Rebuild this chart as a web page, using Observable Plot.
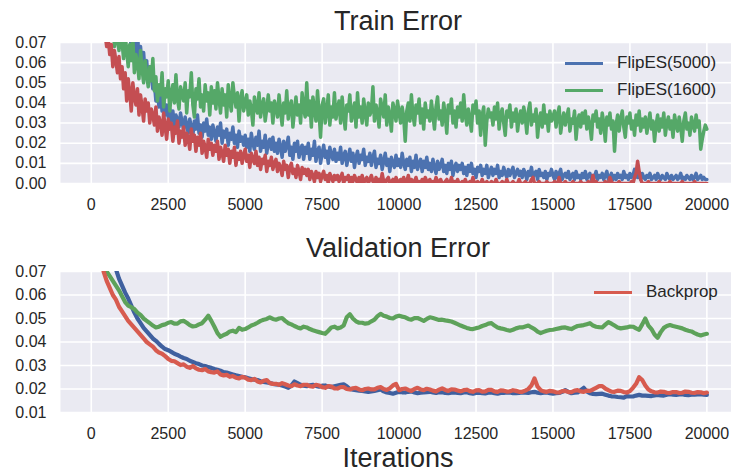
<!DOCTYPE html>
<html><head><meta charset="utf-8">
<script src="https://cdn.jsdelivr.net/npm/d3@7"></script>
<script src="https://cdn.jsdelivr.net/npm/@observablehq/plot@0.6"></script>
<style>
html,body{margin:0;padding:0;background:#fff;overflow:hidden}
#wrap{position:relative;width:731px;height:472px;overflow:hidden;font-family:"Liberation Sans",Arial,sans-serif;color:#262626}
.panel{position:absolute;left:0}
.title{position:absolute;left:398px;transform:translateX(-50%);font-size:27px;line-height:27px;white-space:nowrap}
.leg{position:absolute;font-size:17px;line-height:17px;white-space:nowrap}
.leg .sw{position:absolute;width:38px;height:3px}
.leg .lb{position:absolute;left:52px;top:0}
</style>
</head><body>
<div id="wrap"></div>
<script>
// ---------- data ----------
const xTicks = [0, 2500, 5000, 7500, 10000, 12500, 15000, 17500, 20000];
const yTicksTrain = [0.00, 0.01, 0.02, 0.03, 0.04, 0.05, 0.06, 0.07];
const yTicksVal = [0.01, 0.02, 0.03, 0.04, 0.05, 0.06, 0.07];
const seriesNames = ["FlipES(5000)", "FlipES(1600)", "Backprop"];
const trainStep = 50;    // iterations between train samples
const valStep = 100;     // iterations between validation samples

// Train error, FlipES(5000)  (one row = 1000 iterations)
const trainFlip5000 = [
0.600,0.500,0.420,0.350,0.300,0.260,0.220,0.190,0.165,0.145,0.130,0.118,0.108,0.100,0.094,0.090,0.087,0.084,0.082,0.080,
0.078,0.083,0.075,0.079,0.072,0.077,0.066,0.074,0.069,0.063,0.076,0.060,0.068,0.057,0.065,0.054,0.061,0.050,0.058,0.053,
0.047,0.050,0.041,0.045,0.038,0.044,0.036,0.042,0.034,0.039,0.033,0.037,0.031,0.036,0.029,0.034,0.032,0.028,0.035,0.030,
0.027,0.033,0.029,0.025,0.032,0.028,0.024,0.031,0.027,0.034,0.025,0.029,0.023,0.030,0.026,0.032,0.024,0.028,0.022,0.029,
0.025,0.021,0.028,0.024,0.030,0.020,0.026,0.023,0.027,0.019,0.025,0.022,0.028,0.020,0.024,0.018,0.026,0.021,0.023,0.019,
0.024,0.018,0.022,0.016,0.025,0.020,0.017,0.023,0.019,0.026,0.016,0.021,0.018,0.024,0.015,0.020,0.022,0.017,0.023,0.016,
0.020,0.015,0.022,0.018,0.013,0.021,0.016,0.019,0.023,0.014,0.018,0.012,0.020,0.016,0.021,0.013,0.017,0.019,0.012,0.018,
0.015,0.020,0.012,0.017,0.014,0.021,0.011,0.016,0.018,0.010,0.015,0.019,0.013,0.016,0.010,0.018,0.014,0.012,0.017,0.011,
0.015,0.012,0.018,0.010,0.014,0.016,0.009,0.013,0.017,0.011,0.015,0.008,0.013,0.016,0.010,0.014,0.012,0.017,0.009,0.013,
0.011,0.015,0.009,0.013,0.016,0.008,0.012,0.010,0.014,0.007,0.011,0.015,0.009,0.012,0.006,0.013,0.010,0.008,0.014,0.009,
0.012,0.008,0.015,0.010,0.007,0.012,0.009,0.013,0.006,0.011,0.008,0.014,0.007,0.010,0.012,0.006,0.011,0.008,0.013,0.007,
0.010,0.006,0.012,0.008,0.005,0.011,0.007,0.009,0.012,0.006,0.009,0.005,0.010,0.007,0.011,0.004,0.008,0.010,0.006,0.009,
0.007,0.010,0.005,0.008,0.004,0.009,0.006,0.010,0.005,0.007,0.003,0.008,0.006,0.009,0.004,0.007,0.005,0.009,0.003,0.006,
0.008,0.004,0.007,0.005,0.009,0.003,0.006,0.004,0.008,0.005,0.003,0.007,0.004,0.006,0.008,0.003,0.005,0.007,0.004,0.006,
0.003,0.007,0.005,0.002,0.006,0.004,0.008,0.003,0.005,0.006,0.002,0.007,0.004,0.005,0.003,0.006,0.002,0.005,0.004,0.007,
0.004,0.002,0.006,0.003,0.005,0.007,0.002,0.004,0.005,0.003,0.006,0.002,0.004,0.005,0.002,0.006,0.003,0.004,0.002,0.005,
0.003,0.006,0.002,0.004,0.005,0.002,0.004,0.003,0.006,0.002,0.004,0.003,0.005,0.002,0.004,0.006,0.002,0.003,0.005,0.002,
0.004,0.002,0.005,0.003,0.004,0.002,0.006,0.003,0.004,0.002,0.005,0.003,0.004,0.007,0.006,0.003,0.004,0.002,0.005,0.003,
0.002,0.004,0.003,0.005,0.002,0.003,0.004,0.002,0.005,0.003,0.002,0.004,0.003,0.002,0.005,0.003,0.002,0.004,0.002,0.003,
0.004,0.002,0.003,0.005,0.002,0.003,0.002,0.004,0.003,0.002,0.004,0.002,0.003,0.005,0.002,0.003,0.004,0.002,0.003,0.002,
0.002];

// Train error, FlipES(1600)
const trainFlip1600 = [
0.500,0.400,0.320,0.260,0.210,0.170,0.140,0.120,0.105,0.095,0.088,0.080,0.076,0.072,0.082,0.068,0.075,0.071,0.066,0.079,
0.070,0.062,0.074,0.066,0.058,0.069,0.061,0.072,0.055,0.064,0.060,0.052,0.066,0.057,0.050,0.061,0.054,0.048,0.058,0.051,
0.062,0.046,0.053,0.041,0.049,0.044,0.055,0.038,0.047,0.043,0.051,0.036,0.045,0.049,0.040,0.054,0.042,0.037,0.048,0.044,
0.041,0.050,0.035,0.046,0.043,0.055,0.039,0.033,0.047,0.042,0.052,0.038,0.044,0.036,0.049,0.041,0.045,0.034,0.048,0.040,
0.046,0.037,0.050,0.042,0.035,0.047,0.039,0.044,0.033,0.049,0.041,0.036,0.050,0.043,0.038,0.045,0.031,0.042,0.046,0.036,
0.040,0.044,0.034,0.041,0.037,0.029,0.043,0.038,0.035,0.045,0.033,0.039,0.042,0.031,0.037,0.044,0.036,0.040,0.030,0.041,
0.038,0.033,0.044,0.036,0.029,0.040,0.035,0.046,0.032,0.038,0.041,0.028,0.036,0.043,0.034,0.039,0.030,0.045,0.037,0.033,
0.050,0.034,0.041,0.028,0.043,0.037,0.031,0.046,0.035,0.023,0.039,0.042,0.030,0.036,0.044,0.029,0.038,0.033,0.045,0.032,
0.037,0.041,0.030,0.043,0.034,0.027,0.039,0.036,0.044,0.031,0.035,0.040,0.028,0.045,0.033,0.038,0.030,0.042,0.035,0.029,
0.040,0.034,0.036,0.048,0.031,0.039,0.035,0.028,0.042,0.037,0.033,0.044,0.029,0.038,0.034,0.026,0.040,0.036,0.031,0.041,
0.035,0.030,0.038,0.033,0.021,0.036,0.040,0.031,0.044,0.034,0.029,0.039,0.035,0.042,0.030,0.037,0.027,0.040,0.033,0.036,
0.031,0.041,0.034,0.027,0.038,0.043,0.032,0.036,0.029,0.040,0.034,0.025,0.039,0.035,0.042,0.030,0.036,0.028,0.038,0.033,
0.040,0.031,0.044,0.034,0.029,0.037,0.032,0.026,0.039,0.035,0.041,0.030,0.036,0.024,0.034,0.038,0.019,0.031,0.037,0.033,
0.035,0.029,0.038,0.032,0.040,0.027,0.034,0.037,0.030,0.024,0.036,0.033,0.039,0.028,0.035,0.031,0.037,0.026,0.033,0.036,
0.030,0.038,0.033,0.025,0.036,0.040,0.029,0.034,0.031,0.037,0.023,0.032,0.035,0.028,0.039,0.030,0.034,0.026,0.036,0.031,
0.033,0.036,0.028,0.034,0.038,0.025,0.031,0.035,0.029,0.033,0.037,0.026,0.032,0.030,0.036,0.022,0.031,0.034,0.028,0.035,
0.030,0.036,0.027,0.033,0.029,0.022,0.034,0.031,0.036,0.028,0.032,0.025,0.035,0.030,0.021,0.033,0.029,0.035,0.027,0.031,
0.016,0.029,0.034,0.026,0.032,0.036,0.028,0.023,0.033,0.030,0.035,0.027,0.031,0.024,0.034,0.029,0.036,0.026,0.032,0.028,
0.033,0.025,0.030,0.035,0.027,0.031,0.021,0.029,0.034,0.026,0.032,0.028,0.035,0.024,0.030,0.033,0.027,0.031,0.023,0.034,
0.029,0.026,0.033,0.028,0.021,0.031,0.035,0.027,0.030,0.024,0.033,0.029,0.026,0.034,0.028,0.031,0.017,0.022,0.026,0.029,
0.027];

// Train error, Backprop
const trainBackprop = [
0.400,0.320,0.250,0.200,0.160,0.130,0.110,0.095,0.082,0.074,0.068,0.072,0.064,0.069,0.058,0.066,0.061,0.055,0.063,0.052,
0.058,0.047,0.055,0.041,0.052,0.045,0.036,0.050,0.043,0.039,0.047,0.034,0.044,0.038,0.031,0.042,0.036,0.040,0.030,0.037,
0.034,0.029,0.038,0.026,0.033,0.030,0.024,0.035,0.028,0.022,0.032,0.027,0.030,0.021,0.028,0.025,0.031,0.020,0.026,0.023,
0.028,0.019,0.025,0.022,0.017,0.027,0.021,0.024,0.016,0.023,0.019,0.025,0.015,0.021,0.018,0.013,0.022,0.017,0.020,0.014,
0.019,0.016,0.021,0.012,0.018,0.015,0.011,0.019,0.014,0.017,0.010,0.016,0.013,0.018,0.009,0.015,0.012,0.016,0.010,0.014,
0.017,0.011,0.014,0.008,0.015,0.012,0.010,0.016,0.009,0.013,0.007,0.012,0.010,0.014,0.006,0.011,0.009,0.013,0.007,0.010,
0.012,0.006,0.010,0.008,0.004,0.011,0.007,0.009,0.003,0.008,0.010,0.005,0.007,0.003,0.009,0.006,0.002,0.008,0.005,0.007,
0.004,0.007,0.002,0.006,0.004,0.001,0.006,0.003,0.005,0.001,0.004,0.006,0.002,0.004,0.000,0.005,0.003,0.001,0.004,0.002,
0.004,0.001,0.003,0.005,0.000,0.003,0.002,0.004,0.000,0.003,0.001,0.004,0.002,0.000,0.003,0.001,0.004,0.000,0.002,0.003,
0.000,0.002,0.004,0.001,0.000,0.003,0.001,0.002,0.000,0.005,0.001,0.000,0.002,0.003,0.000,0.001,0.002,0.000,0.003,0.001,
0.000,0.002,0.001,0.003,0.000,0.001,0.004,0.000,0.002,0.000,0.001,0.003,0.000,0.001,0.000,0.002,0.000,0.003,0.001,0.000,
0.002,0.000,0.001,0.000,0.003,0.001,0.000,0.002,0.000,0.000,0.001,0.002,0.000,0.000,0.003,0.000,0.001,0.000,0.002,0.000,
0.000,0.001,0.000,0.002,0.000,0.000,0.001,0.000,0.003,0.000,0.000,0.001,0.000,0.000,0.002,0.000,0.000,0.001,0.000,0.000,
0.001,0.000,0.000,0.002,0.000,0.000,0.000,0.001,0.000,0.000,0.002,0.000,0.000,0.000,0.001,0.000,0.000,0.000,0.002,0.000,
0.000,0.000,0.001,0.000,0.000,0.000,0.002,0.003,0.000,0.000,0.000,0.001,0.000,0.000,0.000,0.000,0.001,0.000,0.000,0.000,
0.000,0.001,0.000,0.000,0.003,0.000,0.000,0.000,0.001,0.000,0.000,0.000,0.000,0.001,0.000,0.000,0.000,0.000,0.001,0.000,
0.000,0.000,0.000,0.001,0.000,0.000,0.004,0.000,0.001,0.000,0.000,0.000,0.000,0.000,0.001,0.000,0.000,0.003,0.001,0.000,
0.000,0.000,0.000,0.001,0.000,0.000,0.000,0.000,0.000,0.000,0.000,0.001,0.000,0.003,0.005,0.011,0.006,0.002,0.000,0.000,
0.000,0.000,0.001,0.000,0.000,0.000,0.000,0.000,0.000,0.001,0.000,0.000,0.000,0.000,0.000,0.000,0.001,0.000,0.000,0.000,
0.000,0.000,0.000,0.000,0.001,0.000,0.000,0.000,0.000,0.000,0.000,0.000,0.001,0.000,0.000,0.000,0.000,0.000,0.000,0.000,
0.000];

// Validation error, FlipES(5000)
const valFlip5000 = [
0.300,0.220,0.160,0.120,0.100,0.090,0.083,0.077,0.071,0.067,
0.064,0.061,0.0585,0.0555,0.0525,0.050,0.048,0.046,0.0445,0.043,
0.0415,0.0405,0.0392,0.038,0.037,0.0365,0.0358,0.035,0.0345,0.0338,
0.0332,0.0328,0.032,0.0315,0.031,0.0306,0.030,0.0298,0.0293,0.029,
0.0285,0.0282,0.0278,0.0272,0.027,0.0266,0.0262,0.0258,0.0255,0.0252,
0.025,0.0246,0.0242,0.024,0.0238,0.0233,0.023,0.0228,0.0226,0.0222,
0.022,0.0218,0.0215,0.021,0.0205,0.0215,0.0232,0.0225,0.0218,0.0214,
0.0212,0.0216,0.0218,0.0213,0.021,0.0214,0.0215,0.0211,0.0208,0.0212,
0.0215,0.0218,0.022,0.0212,0.020,0.0197,0.0195,0.0193,0.0192,0.019,
0.0188,0.019,0.0192,0.0195,0.0198,0.019,0.0185,0.0183,0.018,0.0184,
0.0188,0.0186,0.0185,0.0188,0.019,0.0185,0.0182,0.0184,0.0185,0.0187,
0.0188,0.0185,0.0183,0.0186,0.0186,0.0183,0.0182,0.0184,0.0185,0.0183,
0.0182,0.0185,0.0186,0.0182,0.018,0.0183,0.0184,0.0182,0.0181,0.0184,
0.0185,0.0182,0.018,0.0183,0.0183,0.0185,0.0185,0.0182,0.0182,0.0183,
0.0185,0.0184,0.0183,0.0186,0.0188,0.0184,0.0182,0.0184,0.0185,0.0182,
0.018,0.0182,0.0183,0.0188,0.0195,0.0188,0.0182,0.0184,0.0185,0.0195,
0.0205,0.019,0.0182,0.0179,0.0178,0.0179,0.018,0.0176,0.0172,0.0169,
0.0168,0.0166,0.0165,0.0163,0.017,0.0168,0.0168,0.0172,0.0175,0.0172,
0.0172,0.0171,0.017,0.0173,0.0175,0.0173,0.0172,0.0176,0.0178,0.0176,
0.0175,0.0177,0.0178,0.0175,0.0174,0.0176,0.0176,0.0177,0.0178,0.0176,
0.0175];

// Validation error, FlipES(1600)
const valFlip1600 = [
0.250,0.160,0.110,0.085,0.074,0.070,0.068,0.066,0.064,0.062,
0.0595,0.057,0.0555,0.0548,0.054,0.0525,0.0515,0.050,0.049,0.048,
0.047,0.0462,0.0465,0.0472,0.0475,0.0482,0.0485,0.0478,0.0478,0.0488,
0.049,0.0482,0.0472,0.0466,0.0468,0.0475,0.048,0.0495,0.0512,0.049,
0.0465,0.0438,0.0422,0.043,0.0435,0.0445,0.0448,0.0442,0.046,0.0452,
0.0455,0.0462,0.047,0.0475,0.0482,0.049,0.0495,0.0498,0.0505,0.0498,
0.0495,0.050,0.0502,0.049,0.048,0.0475,0.0468,0.0462,0.0458,0.0465,
0.0462,0.0455,0.045,0.0446,0.0442,0.0438,0.0435,0.0448,0.0462,0.0465,
0.0458,0.0462,0.047,0.0505,0.0518,0.050,0.0488,0.0482,0.0482,0.0478,
0.048,0.0488,0.0495,0.051,0.052,0.0512,0.0508,0.0502,0.050,0.0508,
0.0512,0.0508,0.0505,0.0498,0.0495,0.0502,0.0502,0.0496,0.049,0.0498,
0.0505,0.0502,0.0498,0.0494,0.0495,0.0492,0.049,0.0487,0.0482,0.0476,
0.047,0.0465,0.046,0.0456,0.0455,0.0459,0.0462,0.0468,0.0472,0.0478,
0.048,0.047,0.0462,0.0458,0.0455,0.0451,0.0448,0.0452,0.0458,0.0462,
0.0462,0.0466,0.047,0.0462,0.0455,0.0444,0.0438,0.0443,0.0448,0.0451,
0.0452,0.0455,0.0458,0.0461,0.0462,0.0458,0.0455,0.0462,0.0468,0.047,
0.0472,0.0476,0.048,0.047,0.0465,0.0463,0.0462,0.0474,0.0485,0.0478,
0.047,0.0462,0.0458,0.046,0.0462,0.0466,0.0465,0.0458,0.0452,0.0475,
0.050,0.047,0.0455,0.0432,0.0418,0.0442,0.046,0.0468,0.0472,0.0468,
0.0465,0.0462,0.0458,0.0452,0.0448,0.0445,0.0438,0.0432,0.0428,0.0432,
0.0435];

// Validation error, Backprop
const valBackprop = [
0.200,0.140,0.100,0.082,0.070,0.066,0.063,0.060,0.058,0.055,
0.053,0.051,0.049,0.0475,0.046,0.0445,0.043,0.0415,0.040,0.039,
0.038,0.0365,0.0355,0.035,0.034,0.0328,0.032,0.0318,0.031,0.0302,
0.0305,0.0295,0.029,0.0298,0.0288,0.0282,0.028,0.0285,0.0275,0.0272,
0.027,0.0275,0.0262,0.0258,0.026,0.0252,0.0255,0.0248,0.0245,0.0252,
0.0248,0.024,0.0238,0.0243,0.0232,0.0228,0.0235,0.0238,0.0225,0.0222,
0.0222,0.0218,0.0225,0.022,0.0215,0.0212,0.022,0.0215,0.0212,0.0218,
0.0218,0.0212,0.021,0.0218,0.0215,0.0208,0.0205,0.0212,0.021,0.0203,
0.0202,0.0208,0.0208,0.0200,0.0198,0.0203,0.0205,0.0198,0.0195,0.0200,
0.0202,0.0198,0.0198,0.0205,0.0208,0.0200,0.0196,0.0203,0.0215,0.0222,
0.0195,0.0200,0.0202,0.0196,0.0192,0.0200,0.0205,0.0198,0.0195,0.0201,
0.0198,0.0193,0.019,0.0197,0.0203,0.0196,0.0192,0.0199,0.0198,0.0194,
0.019,0.0195,0.0197,0.0191,0.0188,0.0194,0.0195,0.0189,0.019,0.0196,
0.0196,0.019,0.0188,0.0194,0.0193,0.0189,0.019,0.0195,0.0192,0.0188,
0.0188,0.0193,0.020,0.0215,0.0245,0.021,0.0195,0.019,0.0188,0.0192,
0.019,0.0186,0.0185,0.0191,0.0192,0.0187,0.0187,0.0193,0.0195,0.019,
0.0188,0.0193,0.0192,0.0198,0.0205,0.0212,0.0212,0.0202,0.0195,0.0189,
0.0188,0.0193,0.0192,0.0187,0.0185,0.0191,0.0205,0.0222,0.025,0.0238,
0.0215,0.0198,0.019,0.0186,0.0185,0.0189,0.0188,0.0184,0.0183,0.0187,
0.0187,0.0183,0.0184,0.0189,0.0188,0.0184,0.0183,0.0187,0.0186,0.0182,
0.0185];

// ---------- build ----------
const toRows = (arr, step) => arr.map((v, i) => ({iter: i * step, v}));
const trainColors = ["#4C72B0", "#55A868", "#C44E52"];
const valColors = ["#3F609F", "#5DA25A", "#D75B4F"];
const wrap = document.getElementById("wrap");

function panel({top, height, yDomain, yTicks, series, colors, sw}) {
  const marks = [
    Plot.frame({fill: "#EAEAF2", stroke: "none"}),
    Plot.gridX(xTicks, {stroke: "#fff", strokeOpacity: 1, strokeWidth: 1.6}),
    Plot.gridY(yTicks, {stroke: "#fff", strokeOpacity: 1, strokeWidth: 1.6}),
    Plot.axisX(xTicks, {tickSize: 0, tickPadding: 15, tickFormat: d => String(d), label: null, fontSize: 16, fill: "#262626"}),
    Plot.axisY(yTicks, {tickSize: 0, tickPadding: 14, tickFormat: d3.format(".2f"), label: null, fontSize: 16, fill: "#262626"})
  ];
  series.forEach((s, i) => {
    marks.push(Plot.line(s, {x: "iter", y: "v", stroke: colors[i], strokeWidth: sw, strokeLinejoin: "round", clip: true}));
  });
  const p = Plot.plot({
    width: 731, height, marginTop: 42, marginBottom: height - 42 - 141, marginLeft: 60, marginRight: 0,
    style: {fontFamily: '"Liberation Sans", Arial, sans-serif', fontSize: "16px", color: "#262626", background: "transparent", overflow: "visible"},
    x: {domain: [-1000, 20800]},
    y: {domain: yDomain},
    marks
  });
  p.classList.add("panel");
  p.style.top = top + "px";
  wrap.appendChild(p);
}

panel({top: 0, height: 215, yDomain: [0, 0.07], yTicks: yTicksTrain,
  series: [toRows(trainFlip5000, trainStep), toRows(trainFlip1600, trainStep), toRows(trainBackprop, trainStep)],
  colors: trainColors, sw: 3.5});
panel({top: 229, height: 243, yDomain: [0.01, 0.07], yTicks: yTicksVal,
  series: [toRows(valFlip5000, valStep), toRows(valFlip1600, valStep), toRows(valBackprop, valStep)],
  colors: valColors, sw: 4.2});

function addText(cls, text, top) {
  const d = document.createElement("div");
  d.className = cls; d.textContent = text; d.style.top = top + "px";
  wrap.appendChild(d);
}
addText("title", "Train Error", 8);
addText("title", "Validation Error", 235);
addText("title", "Iterations", 445);

function addLegend(name, color, left, cy) {
  const d = document.createElement("div");
  d.className = "leg";
  d.style.left = left + "px";
  d.style.top = (cy - 9) + "px";
  const s = document.createElement("div");
  s.className = "sw"; s.style.background = color; s.style.top = "7.5px"; s.style.left = "0px";
  const l = document.createElement("div");
  l.className = "lb"; l.textContent = name;
  d.appendChild(s); d.appendChild(l);
  wrap.appendChild(d);
}
addLegend(seriesNames[0], trainColors[0], 565, 63);
addLegend(seriesNames[1], trainColors[1], 565, 90);
addLegend(seriesNames[2], valColors[2], 594, 292);
</script>
</body></html>
